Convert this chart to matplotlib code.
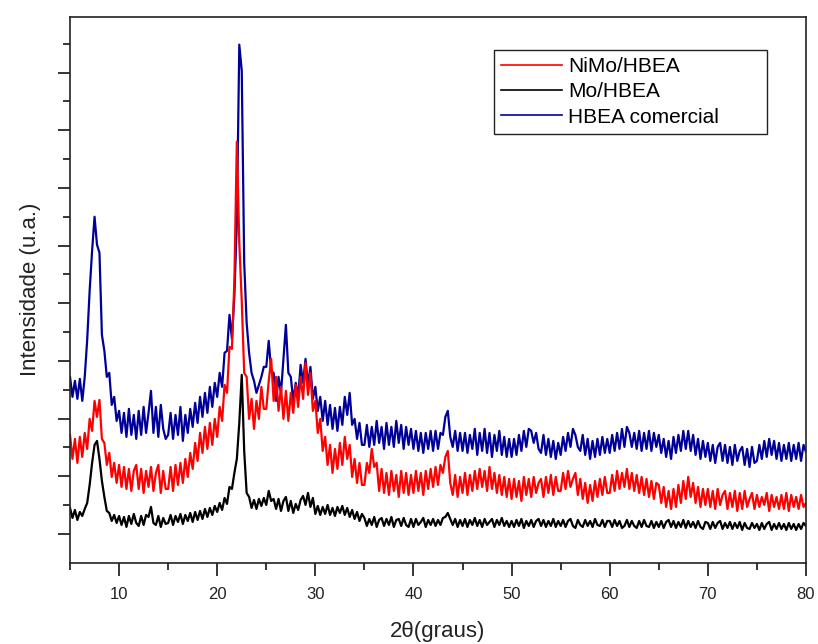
import numpy as np
import matplotlib.pyplot as plt
from matplotlib.ticker import FixedLocator

plt.rcParams['font.family'] = ['Liberation Sans', 'DejaVu Sans']

# 2theta grid (degrees), 0.25 step from 5 to 80
two_theta = np.linspace(5, 80, 301)

# intensities (a.u.), one row = 5 degrees
hbea_comercial = [
    186, 166, 182, 164, 184, 162, 186, 223, 272, 312, 346, 318, 310, 228, 212, 186, 190, 158, 166, 142,
    152, 130, 150, 126, 154, 128, 148, 124, 152, 128, 156, 130, 150, 172, 130, 156, 126, 158, 134, 124,
    128, 150, 124, 148, 128, 156, 122, 148, 130, 154, 136, 160, 140, 166, 146, 170, 150, 176, 156, 180,
    166, 190, 176, 210, 212, 248, 224, 268, 340, 518, 492, 300, 240, 210, 190, 182, 170, 178, 186, 196,
    196, 222, 192, 190, 162, 186, 170, 204, 238, 190, 186, 162, 180, 166, 198, 180, 204, 178, 196, 164,
    176, 152, 166, 142, 162, 138, 158, 134, 155, 132, 156, 138, 166, 148, 170, 138, 144, 124, 140, 118,
    118, 138, 116, 136, 118, 142, 120, 136, 114, 140, 118, 136, 116, 142, 120, 138, 114, 136, 118, 134,
    114, 132, 112, 130, 110, 130, 114, 132, 112, 132, 114, 130, 128, 146, 152, 126, 116, 132, 112, 130,
    112, 130, 110, 128, 114, 134, 108, 130, 112, 134, 110, 130, 106, 128, 112, 132, 108, 126, 106, 124,
    106, 124, 108, 128, 112, 132, 116, 134, 132, 120, 130, 114, 110, 128, 108, 124, 106, 122, 104, 120,
    108, 126, 112, 130, 116, 134, 128, 116, 112, 128, 108, 124, 104, 122, 106, 124, 108, 126, 110, 124,
    110, 128, 112, 130, 114, 134, 116, 136, 130, 116, 130, 114, 132, 112, 130, 114, 132, 112, 130, 116,
    128, 110, 124, 106, 122, 104, 126, 110, 128, 112, 132, 114, 132, 112, 128, 108, 124, 104, 122, 106,
    120, 102, 118, 100, 116, 120, 102, 118, 100, 116, 98, 118, 102, 112, 116, 98, 114, 96, 116, 100,
    102, 118, 104, 122, 106, 124, 108, 122, 104, 120, 102, 118, 104, 120, 102, 118, 104, 120, 102, 118,
    111]

nimo_hbea = [
    128, 104, 124, 100, 126, 106, 130, 114, 144, 132, 162, 146, 163, 124, 120, 98, 110, 86, 100, 80,
    98, 76, 96, 74, 94, 72, 92, 98, 74, 94, 70, 92, 76, 96, 72, 90, 98, 70, 92, 74,
    74, 96, 72, 98, 78, 100, 80, 104, 86, 110, 94, 120, 102, 130, 110, 136, 114, 140, 118, 144,
    126, 156, 142, 178, 170, 216, 214, 282, 421, 320, 262, 190, 186, 144, 164, 134, 162, 144, 176, 154,
    154, 182, 204, 162, 186, 152, 176, 144, 172, 142, 170, 150, 178, 156, 186, 164, 200, 168, 190, 152,
    162, 130, 144, 112, 126, 98, 118, 90, 114, 94, 120, 98, 126, 104, 118, 86, 104, 80, 100, 78,
    78, 100, 90, 114, 96, 100, 72, 94, 70, 90, 68, 92, 72, 88, 66, 92, 70, 90, 68, 88,
    70, 92, 72, 90, 68, 92, 74, 94, 76, 96, 78, 98, 90, 106, 112, 80, 68, 88, 66, 86,
    70, 90, 68, 88, 72, 92, 74, 94, 76, 92, 72, 96, 74, 90, 70, 88, 68, 86, 66, 84,
    64, 84, 66, 82, 62, 86, 68, 84, 66, 86, 70, 80, 84, 66, 86, 70, 88, 68, 86, 72,
    72, 90, 74, 92, 76, 84, 90, 68, 84, 64, 80, 60, 78, 62, 82, 66, 84, 68, 86, 70,
    70, 88, 72, 92, 74, 90, 76, 94, 74, 90, 72, 88, 70, 86, 68, 84, 66, 82, 64, 80,
    78, 60, 76, 56, 72, 54, 74, 56, 78, 60, 82, 64, 86, 66, 80, 60, 76, 56, 74, 58,
    74, 56, 72, 54, 74, 58, 68, 72, 54, 70, 56, 72, 52, 70, 54, 72, 56, 64, 70, 54,
    68, 56, 66, 58, 70, 52, 68, 56, 66, 54, 68, 54, 70, 52, 68, 56, 66, 54, 68, 56,
    60]

mo_hbea = [
    55, 45, 53, 43, 51, 47, 54, 60, 78, 100, 118, 122, 104, 82, 66, 52, 50, 42, 48, 40,
    47, 38, 46, 36, 47, 39, 49, 40, 37, 47, 38, 48, 46, 56, 40, 38, 47, 36, 45, 39,
    40, 48, 38, 47, 41, 49, 39, 48, 42, 50, 41, 51, 43, 52, 44, 54, 46, 55, 48, 57,
    51, 60, 53, 65, 59, 76, 74, 90, 104, 140, 188, 112, 70, 66, 55, 63, 54, 64, 57, 65,
    58, 72, 62, 64, 54, 64, 52, 62, 66, 52, 62, 50, 59, 53, 63, 67, 58, 70, 56, 65,
    49, 57, 48, 56, 49, 58, 48, 55, 47, 56, 50, 57, 48, 55, 46, 53, 44, 51, 42, 49,
    45, 37, 44, 38, 46, 36, 43, 45, 37, 44, 38, 46, 36, 43, 44, 37, 45, 38, 36, 44,
    36, 44, 38, 41, 45, 36, 43, 38, 44, 37, 43, 38, 45, 46, 50, 44, 38, 44, 36, 43,
    37, 44, 36, 43, 38, 45, 37, 43, 36, 44, 38, 41, 44, 36, 43, 38, 45, 37, 42, 36,
    42, 36, 43, 37, 44, 35, 42, 37, 43, 36, 42, 44, 37, 43, 36, 42, 37, 44, 36, 42,
    37, 43, 36, 42, 44, 37, 35, 43, 38, 36, 43, 37, 42, 36, 44, 38, 37, 43, 36, 42,
    42, 36, 43, 37, 42, 35, 37, 43, 36, 42, 37, 35, 42, 36, 43, 37, 36, 42, 35, 41,
    36, 42, 35, 41, 43, 36, 42, 35, 41, 36, 43, 35, 42, 36, 41, 35, 42, 36, 34, 41,
    40, 34, 41, 35, 40, 42, 34, 40, 35, 41, 34, 40, 35, 41, 33, 40, 35, 34, 40, 35,
    39, 33, 40, 34, 39, 41, 33, 39, 34, 40, 34, 39, 33, 40, 34, 39, 33, 39, 34, 40,
    37]

fig = plt.figure(figsize=(8.18, 6.44), dpi=100)
ax = fig.add_axes([0.0856, 0.1258, 0.8997, 0.8484])

l_blue, = ax.plot(two_theta, hbea_comercial, color='#000099', lw=1.6)
l_red, = ax.plot(two_theta, nimo_hbea, color='#ff0000', lw=1.6)
l_black, = ax.plot(two_theta, mo_hbea, color='black', lw=1.6)

ax.set_xlim(5, 80)
ax.set_ylim(0, 546)

ax.xaxis.set_major_locator(FixedLocator(range(10, 81, 10)))
ax.xaxis.set_minor_locator(FixedLocator(range(5, 80, 10)))
ax.yaxis.set_major_locator(FixedLocator(np.arange(29, 546, 57.6)))
ax.yaxis.set_minor_locator(FixedLocator(np.arange(58, 546, 57.6)))

ax.tick_params(which='both', direction='out', width=1.1, top=False, right=False,
               labelleft=False, labelsize=12, labelcolor='#222222', pad=8)
ax.tick_params(which='major', length=9)
ax.tick_params(which='minor', length=5)
for s in ax.spines.values():
    s.set_linewidth(1.2)
    s.set_color('#222222')

ax.set_xlabel('2θ(graus)', fontsize=16, color='#222222', labelpad=14)
ax.set_ylabel('Intensidade (u.a.)', fontsize=16, color='#222222', labelpad=12)

leg = ax.legend([l_red, l_black, l_blue], ['NiMo/HBEA', 'Mo/HBEA', 'HBEA comercial'],
                loc='upper left', bbox_to_anchor=(0.576, 0.761, 0.371, 0.178),
                mode='expand', borderaxespad=0, fontsize=15, fancybox=False,
                handlelength=2.9, handletextpad=0.3, labelspacing=0.3,
                borderpad=0.35, framealpha=1)
leg.get_frame().set_edgecolor('#222222')
leg.get_frame().set_linewidth(1.0)
for ln in leg.get_lines():
    ln.set_linewidth(1.2)

fig.savefig('out.png', dpi=100)
